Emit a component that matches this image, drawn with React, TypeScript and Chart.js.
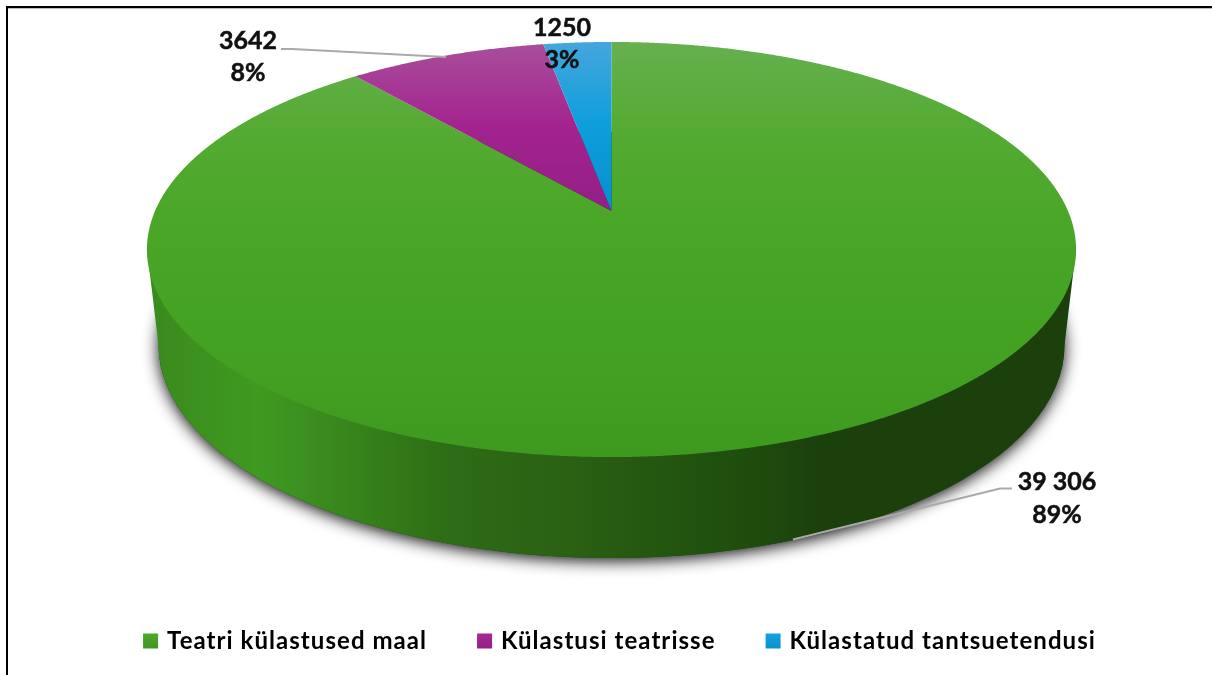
import React, { useEffect, useRef } from "react";
import { Chart, registerables } from "chart.js";

Chart.register(...registerables);

const categories = ["Teatri külastused maal", "Külastusi teatrisse", "Külastatud tantsuetendusi"];
const visits = [39306, 3642, 1250];
const valueLabels = ["39 306", "3642", "1250"];

const topStops = [
  [["0", "#66b04f"], ["0.2", "#55ab34"], ["0.45", "#49a626"], ["0.7", "#44a223"], ["1", "#3e9a1f"]],
  [["0", "#a94f9b"], ["0.5", "#a3238f"], ["1", "#931f85"]],
  [["0", "#45a6dd"], ["0.5", "#0d9edc"], ["1", "#0590cf"]],
];
const legendColors = [
  ["#4bab2a", "#3f9a20"],
  ["#aa2a96", "#971e88"],
  ["#17a2e0", "#0893d2"],
];
const wallStops = [
  [0, "#3a8a1e"], [0.12, "#3f9a20"], [0.165, "#3c9020"], [0.24, "#35801a"], [0.326, "#2e6c16"],
  [0.445, "#2a6213"], [0.574, "#22540f"], [0.67, "#1e4a0d"], [0.724, "#1b400c"], [1, "#1b400c"],
];

// perspective projection of the unit disc on to the page
const APEX_X = 611.5, APEX_Y = 211, K = 456.5, A = 200.4, C = -0.1855;
const project = (theta: number, r = 1) => {
  const u = r * Math.sin(theta), v = -r * Math.cos(theta);
  const w = 1 + C * v;
  return [APEX_X + (K * u) / w, APEX_Y + (A * v) / w];
};

const piePlugin = {
  id: "perspectivePie",
  beforeLayout(chart: any) {
    chart.ctx.letterSpacing = "1.05px";
  },
  beforeDraw(chart: any) {
    const c = chart.ctx;
    c.save();
    c.fillStyle = "#fff";
    c.fillRect(0, 0, chart.width, chart.height);
    c.fillStyle = "#000";
    c.fillRect(6, 6, chart.width - 6, 2);
    c.fillRect(6, 6, 2, chart.height - 6);
    c.fillStyle = "#bbb";
    c.fillRect(8, 8, chart.width - 8, 1);
    c.restore();
  },
  beforeDatasetDraw(chart: any) {
    const c = chart.ctx;
    const arcs = chart.getDatasetMeta(0).data;
    c.save();
    // side wall with its shadow
    const path = () => {
      c.beginPath();
      c.moveTo(147, 249.5);
      c.lineTo(158.5, 345);
      c.ellipse(611.5, 345, 453, 213, 0, Math.PI, 0, true);
      c.lineTo(1076, 249.5);
      c.closePath();
    };
    const wall = c.createLinearGradient(147, 0, 1076, 0);
    wallStops.forEach(([o, col]) => wall.addColorStop(o as number, col as string));
    c.save();
    c.shadowColor = "rgba(0,0,0,0.95)";
    c.shadowBlur = 16;
    c.shadowOffsetY = 3;
    c.fillStyle = "#1b400c";
    c.beginPath();
    c.ellipse(611.5, 345, 453, 213, 0, 0, Math.PI * 2);
    c.fill();
    c.restore();
    c.fillStyle = wall;
    path();
    c.fill();
    // top face, one slice per library arc
    arcs.forEach((arc: any, i: number) => {
      const g = i === 0 ? c.createLinearGradient(0, 42, 0, 457) : c.createLinearGradient(0, 42, 0, 211);
      topStops[i].forEach(([o, col]) => g.addColorStop(+o, col));
      c.fillStyle = g;
      const a0 = arc.startAngle + Math.PI / 2, a1 = arc.endAngle + Math.PI / 2;
      c.beginPath();
      c.moveTo(APEX_X, APEX_Y);
      const n = Math.ceil((a1 - a0) / 0.005);
      for (let s = 0; s <= n; s++) {
        const [x, y] = project(a0 + ((a1 - a0) * s) / n);
        c.lineTo(x, y);
      }
      c.closePath();
      c.fill();
    });
    c.restore();
    return false;
  },
  afterDatasetsDraw(chart: any) {
    const c = chart.ctx;
    const total = visits.reduce((a, b) => a + b, 0);
    c.save();
    c.letterSpacing = "0px";
    c.strokeStyle = "#a9a9a9";
    c.lineWidth = 2;
    c.beginPath();
    c.moveTo(281, 49);
    c.lineTo(292, 49);
    c.lineTo(446, 57);
    c.stroke();
    c.beginPath();
    c.moveTo(1012, 488.5);
    c.lineTo(1000, 488.5);
    c.lineTo(793, 539.5);
    c.stroke();
    c.fillStyle = "#111";
    c.strokeStyle = "#111";
    c.lineWidth = 0.5;
    c.font = "700 25px Lato";
    c.textAlign = "center";
    c.textBaseline = "middle";
    const spots = [[1057, 482, 515], [248, 41, 73], [562, 28, 60]];
    visits.forEach((v, i) => {
      const pct = Math.round((v / total) * 100) + "%";
      c.fillText(valueLabels[i], spots[i][0], spots[i][1]);
      c.fillText(pct, spots[i][0], spots[i][2]);
      c.strokeText(valueLabels[i], spots[i][0], spots[i][1]);
      c.strokeText(pct, spots[i][0], spots[i][2]);
    });
    c.restore();
  },
};

export default function App() {
  const ref = useRef<HTMLCanvasElement>(null);
  useEffect(() => {
    const chart = new Chart(ref.current!, {
      type: "pie",
      data: {
        labels: categories,
        datasets: [{ data: visits, backgroundColor: legendColors.map((p) => p[0]), borderWidth: 0 }],
      },
      plugins: [piePlugin],
      options: {
        animation: false,
        responsive: false,
        layout: { padding: { left: 30, bottom: 12 } },
        plugins: {
          tooltip: { enabled: false },
          legend: {
            display: true,
            position: "bottom",
            labels: {
              boxWidth: 9,
              boxHeight: 9,
              padding: 53,
              color: "#111",
              font: { family: "Lato", size: 24, weight: "700" },
              generateLabels: (ch: any) =>
                categories.map((t, i) => {
                  const g = ch.ctx.createLinearGradient(0, 632, 0, 647);
                  g.addColorStop(0, legendColors[i][0]);
                  g.addColorStop(1, legendColors[i][1]);
                  return { text: t, fillStyle: g, strokeStyle: g, lineWidth: 6, index: i, hidden: false };
                }),
            },
          },
        },
      },
    } as any);
    return () => chart.destroy();
  }, []);
  return (
    <div style={{ position: "fixed", left: 0, top: 0, width: 1212, height: 675, overflow: "hidden" }}>
      <canvas ref={ref} width={1212} height={675} style={{ display: "block" }} />
    </div>
  );
}
